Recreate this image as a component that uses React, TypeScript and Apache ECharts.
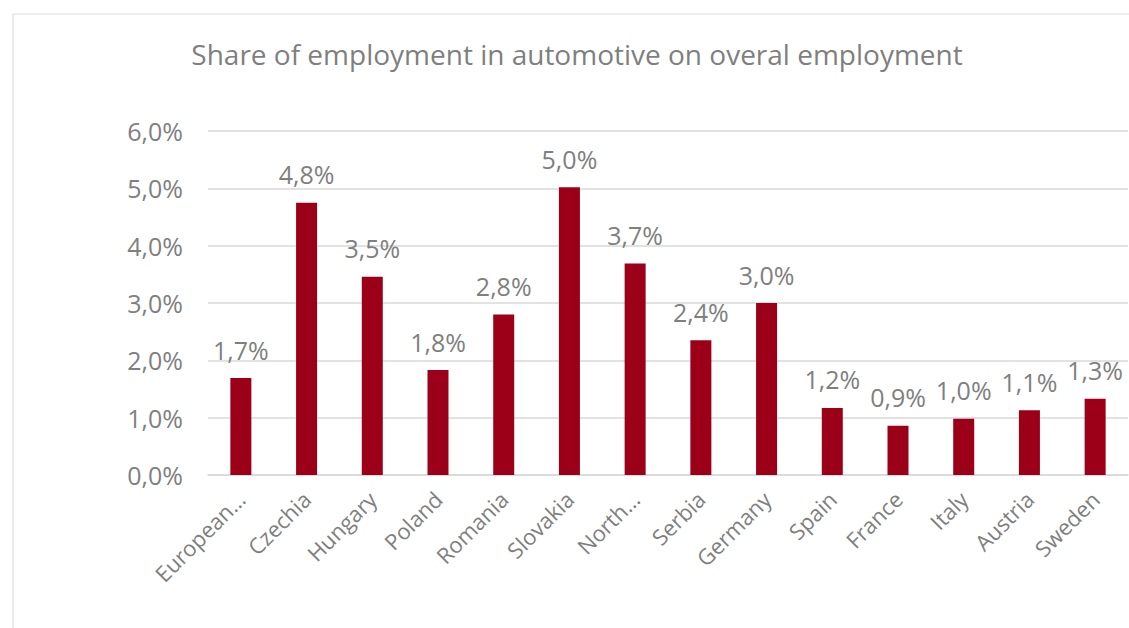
import React, { useEffect, useRef } from "react";
import * as echarts from "echarts";

const categories = [
  "European…",
  "Czechia",
  "Hungary",
  "Poland",
  "Romania",
  "Slovakia",
  "North…",
  "Serbia",
  "Germany",
  "Spain",
  "France",
  "Italy",
  "Austria",
  "Sweden",
];
const shares = [1.69, 4.75, 3.46, 1.83, 2.8, 5.02, 3.69, 2.35, 3.0, 1.17, 0.86, 0.98, 1.13, 1.33];
const titleText = "Share of employment in automotive on overal employment";

const fmt = (v: number) => v.toFixed(1).replace(".", ",") + "%";
const gray = "#7f7f7f";
const font = "'Open Sans', 'Liberation Sans', sans-serif";

export default function App() {
  const ref = useRef<HTMLDivElement>(null);
  useEffect(() => {
    if (!ref.current) return;
    const chart = echarts.init(ref.current, undefined, { renderer: "svg" });
    chart.setOption({
      animation: false,
      backgroundColor: "#ffffff",
      title: {
        text: titleText,
        left: 572,
        top: 35,
        textAlign: "center",
        textStyle: { color: gray, fontSize: 28, fontWeight: "normal", fontFamily: font },
      },
      graphic: [
        {
          type: "rect",
          shape: { x: 13, y: 14, width: 1140, height: 640 },
          style: { fill: "none", stroke: "#d9d9d9", lineWidth: 1 },
          silent: true,
        },
      ],
      grid: { left: 208, right: 1, top: 131, bottom: 153, containLabel: false },
      xAxis: {
        type: "category",
        data: categories,
        axisLine: { show: true, lineStyle: { color: "#d9d9d9", width: 1.5 } },
        axisTick: { show: false },
        axisLabel: {
          interval: 0,
          rotate: 45,
          margin: 20,
          color: gray,
          fontSize: 22,
          fontFamily: font,
        },
      },
      yAxis: {
        type: "value",
        min: 0,
        max: 6,
        interval: 1,
        axisLine: { show: false },
        axisTick: { show: false },
        splitLine: { lineStyle: { color: "#d9d9d9", width: 1.5 } },
        axisLabel: {
          margin: 25,
          color: gray,
          fontSize: 25,
          fontFamily: font,
          formatter: (v: number) => fmt(v),
        },
      },
      series: [
        {
          type: "bar",
          data: shares,
          barWidth: 21,
          itemStyle: { color: "#9c0019" },
          label: {
            show: true,
            position: "top",
            distance: 16,
            color: gray,
            fontSize: 25,
            fontFamily: font,
            formatter: (p: any) => fmt(p.value),
          },
        },
      ],
    });
    return () => chart.dispose();
  }, []);
  return (
    <div
      ref={ref}
      style={{ position: "absolute", left: 0, top: 0, width: 1129, height: 628 }}
    />
  );
}
